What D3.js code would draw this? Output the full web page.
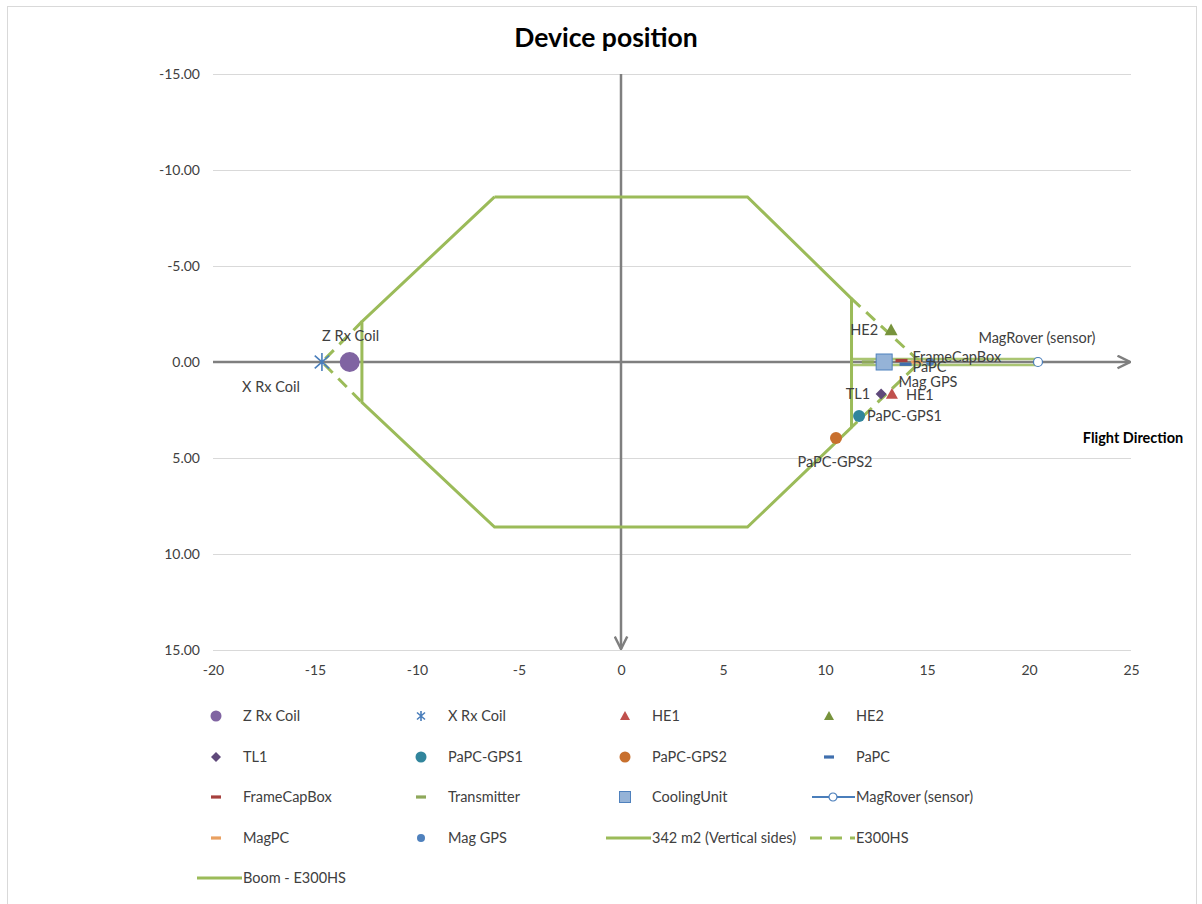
<!DOCTYPE html>
<html>
<head>
<meta charset="utf-8">
<script src="https://cdn.jsdelivr.net/npm/d3@7"></script>
<style>
  body { margin: 0; background: #fff; }
  text { font-family: Lato, "Open Sans", "DejaVu Sans", sans-serif; }
</style>
</head>
<body>
<svg id="chart" width="1202" height="904"></svg>
<script>
// ---- data ----
const chartTitle = "Device position";
const directionLabel = "Flight Direction";

const xTicks = [-20, -15, -10, -5, 0, 5, 10, 15, 20, 25];
const yTicks = [-15, -10, -5, 0, 5, 10, 15];

// device positions (x forward, y lateral)
const deviceNames = ["Z Rx Coil", "X Rx Coil", "HE1", "HE2", "TL1", "PaPC-GPS1", "PaPC-GPS2",
                     "PaPC", "FrameCapBox", "Transmitter", "CoolingUnit", "MagRover (sensor)", "MagPC", "Mag GPS"];
const deviceX = [-13.3, -14.66, 13.28, 13.24, 12.75, 11.67, 10.54, 13.95, 13.75, 12.1, 12.9, 20.44, 14.5, 15.15];
const deviceY = [0, 0, 1.67, -1.67, 1.67, 2.81, 3.96, 0.12, -0.08, 0, 0, 0, 0, 0];

// transmitter loop outline (342 m2, vertical sides)
const loopX = [-6.2, 6.2, 11.3, 11.3, 6.2, -6.2, -12.7, -12.7, -6.2];
const loopY = [-8.6, -8.6, -3.3, 3.4, 8.6, 8.6, 2.1, -2.1, -8.6];

// E300HS nose sections (front and rear)
const e300X = [-12.7, -14.66, -12.7, NaN, 11.3, 14.66, 11.3];
const e300Y = [-2.1, 0, 2.1, NaN, -3.3, 0, 3.4];

// boom of the E300HS
const boomX = [11.3, 20.44, 20.44, 11.3, 11.3];
const boomY = [-0.15, -0.15, 0.15, 0.15, -0.15];

// ---- layout ----
const svg = d3.select("#chart");
const plot = { left: 213, right: 1131, top: 74, bottom: 650 };

const x = d3.scaleLinear().domain([-20, 25]).range([plot.left, plot.right]);
const y = d3.scaleLinear().domain([-15, 15]).range([plot.top, plot.bottom]);

const textColor = "#404040";
const green = "#9BBB59";
const fs = 14.5;

// chart frame
svg.append("rect").attr("x", 7.5).attr("y", 6.5).attr("width", 1189).attr("height", 920)
  .attr("fill", "#fff").attr("stroke", "#D9D9D9").attr("stroke-width", 1);

// title
svg.append("text").attr("x", 606).attr("y", 47).attr("text-anchor", "middle")
  .attr("font-size", 26.5).attr("font-weight", "bold").attr("fill", "#000").text(chartTitle);

// horizontal gridlines
svg.append("g").selectAll("line").data(yTicks.filter(d => d !== 0)).join("line")
  .attr("x1", plot.left).attr("x2", plot.right)
  .attr("y1", d => Math.round(y(d)) + 0.5).attr("y2", d => Math.round(y(d)) + 0.5)
  .attr("stroke", "#D9D9D9").attr("stroke-width", 1);

// y axis labels (plain hyphen for negatives)
const fmt2 = d3.format(".2f");
const yAxis = d3.axisLeft(y).tickValues(yTicks).tickFormat(d => fmt2(d).replace("\u2212", "-"))
  .tickSize(0).tickPadding(13);
const gy = svg.append("g").attr("transform", `translate(${plot.left},0)`).call(yAxis);
gy.select(".domain").remove();
gy.selectAll("text").attr("font-size", 14).attr("fill", textColor)
  .style("font-family", "Lato, 'Open Sans', sans-serif");

// x axis labels
const xAxis = d3.axisBottom(x).tickValues(xTicks).tickFormat(d => String(d)).tickSize(0).tickPadding(15);
const gx = svg.append("g").attr("transform", `translate(0,${plot.bottom})`).call(xAxis);
gx.select(".domain").remove();
gx.selectAll("text").attr("font-size", 14).attr("fill", textColor)
  .style("font-family", "Lato, 'Open Sans', sans-serif");

// arrow marker
const defs = svg.append("defs");
defs.append("marker").attr("id", "arrow").attr("viewBox", "0 0 12 12")
  .attr("refX", 11).attr("refY", 6).attr("markerWidth", 6).attr("markerHeight", 6)
  .attr("markerUnits", "strokeWidth").attr("orient", "auto")
  .append("path").attr("d", "M1,1 L11,6 L1,11").attr("fill", "none")
  .attr("stroke", "#7F7F7F").attr("stroke-width", 2);

// axes through origin
svg.append("line").attr("x1", plot.left).attr("x2", plot.right - 1)
  .attr("y1", y(0)).attr("y2", y(0))
  .attr("stroke", "#7F7F7F").attr("stroke-width", 2.5).attr("marker-end", "url(#arrow)");
svg.append("line").attr("x1", x(0)).attr("x2", x(0))
  .attr("y1", plot.top).attr("y2", plot.bottom - 1)
  .attr("stroke", "#7F7F7F").attr("stroke-width", 2.5).attr("marker-end", "url(#arrow)");

svg.append("text").attr("x", 1133).attr("y", 443).attr("text-anchor", "middle")
  .attr("font-size", 14.5).attr("font-weight", "bold").attr("fill", "#000").text(directionLabel);

// ---- outlines ----
const line = d3.line().defined(d => !isNaN(d[0])).x(d => x(d[0])).y(d => y(d[1]));

svg.append("path").datum(loopX.map((v, i) => [v, loopY[i]]))
  .attr("d", line).attr("fill", "none").attr("stroke", green).attr("stroke-width", 3);

svg.append("path").datum(e300X.map((v, i) => [v, e300Y[i]]))
  .attr("d", line).attr("fill", "none").attr("stroke", green).attr("stroke-width", 3)
  .attr("stroke-dasharray", "12,8");

svg.append("path").datum(boomX.map((v, i) => [v, boomY[i]]))
  .attr("d", line).attr("fill", "none").attr("stroke", green).attr("stroke-width", 2.5)
  .attr("stroke-opacity", 0.85);

// ---- marker styles ----
const style = {
  "Z Rx Coil":        { shape: "circle",   fill: "#8064A2", size: 20, lsize: 11 },
  "X Rx Coil":        { shape: "star",     fill: "#4A7EBB", size: 18, lsize: 10 },
  "HE1":              { shape: "triangle", fill: "#C0504D", size: 12, lsize: 10 },
  "HE2":              { shape: "triangle", fill: "#77933C", size: 13, lsize: 10 },
  "TL1":              { shape: "diamond",  fill: "#5F497A", size: 11, lsize: 10 },
  "PaPC-GPS1":        { shape: "circle",   fill: "#31859C", size: 12, lsize: 11 },
  "PaPC-GPS2":        { shape: "circle",   fill: "#C8702E", size: 12, lsize: 11 },
  "PaPC":             { shape: "dash",     fill: "#3F6FAE", size: 12, lsize: 10 },
  "FrameCapBox":      { shape: "dash",     fill: "#A6403D", size: 12, lsize: 10 },
  "Transmitter":      { shape: "dash",     fill: "#8EA85A", size: 12, lsize: 10 },
  "CoolingUnit":      { shape: "square",   fill: "#95B3D7", size: 16, lsize: 11, stroke: "#4F81BD" },
  "MagRover (sensor)":{ shape: "ring",     fill: "#4A7EBB", size: 11, lsize: 10, line: true },
  "MagPC":            { shape: "dash",     fill: "#E9A060", size: 12, lsize: 10 },
  "Mag GPS":          { shape: "circle",   fill: "#4F81BD", size: 8,  lsize: 8 }
};

function drawMarker(g, s, size) {
  const r = size / 2;
  switch (s.shape) {
    case "circle":
      g.append("circle").attr("r", r).attr("fill", s.fill);
      break;
    case "ring":
      g.append("circle").attr("r", r - 1).attr("fill", "#fff").attr("stroke", s.fill).attr("stroke-width", 1.2);
      break;
    case "triangle":
      g.append("path").attr("d", `M0,${-r} L${r},${r * 0.8} L${-r},${r * 0.8} Z`).attr("fill", s.fill);
      break;
    case "diamond":
      g.append("path").attr("d", `M0,${-r} L${r},0 L0,${r} L${-r},0 Z`).attr("fill", s.fill);
      break;
    case "square":
      g.append("rect").attr("x", -r).attr("y", -r).attr("width", size).attr("height", size)
        .attr("fill", s.fill).attr("stroke", s.stroke || s.fill).attr("stroke-width", 1);
      break;
    case "dash":
      g.append("rect").attr("x", -r).attr("y", -1.6).attr("width", size).attr("height", 3.2).attr("fill", s.fill);
      break;
    case "star":
      g.append("path")
        .attr("d", `M0,${-r} L0,${r} M${-r * 0.8},${-r * 0.7} L${r * 0.8},${r * 0.7} M${-r * 0.8},${r * 0.7} L${r * 0.8},${-r * 0.7}`)
        .attr("stroke", s.fill).attr("stroke-width", 1.6).attr("fill", "none");
      break;
  }
}

// ---- devices ----
const devices = deviceNames.map((n, i) => ({ name: n, x: deviceX[i], y: deviceY[i] }));
const drawOrder = ["Transmitter", "MagPC", "MagRover (sensor)", "Mag GPS", "FrameCapBox", "PaPC",
                   "CoolingUnit", "PaPC-GPS2", "PaPC-GPS1", "TL1", "HE1", "HE2", "X Rx Coil", "Z Rx Coil"];
drawOrder.forEach(n => {
  const d = devices.find(e => e.name === n);
  const g = svg.append("g").attr("transform", `translate(${x(d.x)},${y(d.y)})`);
  drawMarker(g, style[n], style[n].size);
});

// point labels: [name, dx, dy, anchor]
const labelPlacement = [
  ["Z Rx Coil", 1, -21, "middle"],
  ["X Rx Coil", -51, 30, "middle"],
  ["HE1", 14, 6, "start"],
  ["HE2", -13, 5, "end"],
  ["TL1", -11, 5, "end"],
  ["PaPC-GPS1", 8, 5, "start"],
  ["PaPC-GPS2", -1, 29, "middle"],
  ["PaPC", 7, 8, "start"],
  ["FrameCapBox", 11, 2, "start"],
  ["MagRover (sensor)", -1, -19, "middle"],
  ["Mag GPS", -2, 25, "middle"]
];
labelPlacement.forEach(([n, dx, dy, anchor]) => {
  const d = devices.find(e => e.name === n);
  svg.append("text").attr("x", x(d.x) + dx).attr("y", y(d.y) + dy)
    .attr("text-anchor", anchor).attr("font-size", fs).attr("fill", textColor).text(n);
});

// ---- legend ----
const legendNames = deviceNames.concat(["342 m2 (Vertical sides)", "E300HS", "Boom - E300HS"]);
const colX = [216, 421, 625, 829];
const rowY = [716, 757, 797, 838, 878];
legendNames.forEach((n, i) => {
  const cx = colX[i % 4], cy = rowY[Math.floor(i / 4)];
  const g = svg.append("g");
  if (style[n]) {
    if (style[n].line) {
      g.append("line").attr("x1", cx - 17).attr("x2", cx + 26).attr("y1", cy).attr("y2", cy)
        .attr("stroke", style[n].fill).attr("stroke-width", 2);
      const m = g.append("g").attr("transform", `translate(${cx + 4},${cy})`);
      drawMarker(m, style[n], style[n].lsize);
    } else {
      const m = g.append("g").attr("transform", `translate(${cx},${cy})`);
      drawMarker(m, style[n], style[n].lsize);
    }
  } else {
    g.append("line").attr("x1", cx - 19).attr("x2", cx + 26).attr("y1", cy).attr("y2", cy)
      .attr("stroke", green).attr("stroke-width", 3)
      .attr("stroke-dasharray", n === "E300HS" ? "12,8" : null);
  }
  g.append("text").attr("x", cx + 27).attr("y", cy + 5).attr("font-size", fs)
    .attr("fill", textColor).text(n);
});
</script>
</body>
</html>
